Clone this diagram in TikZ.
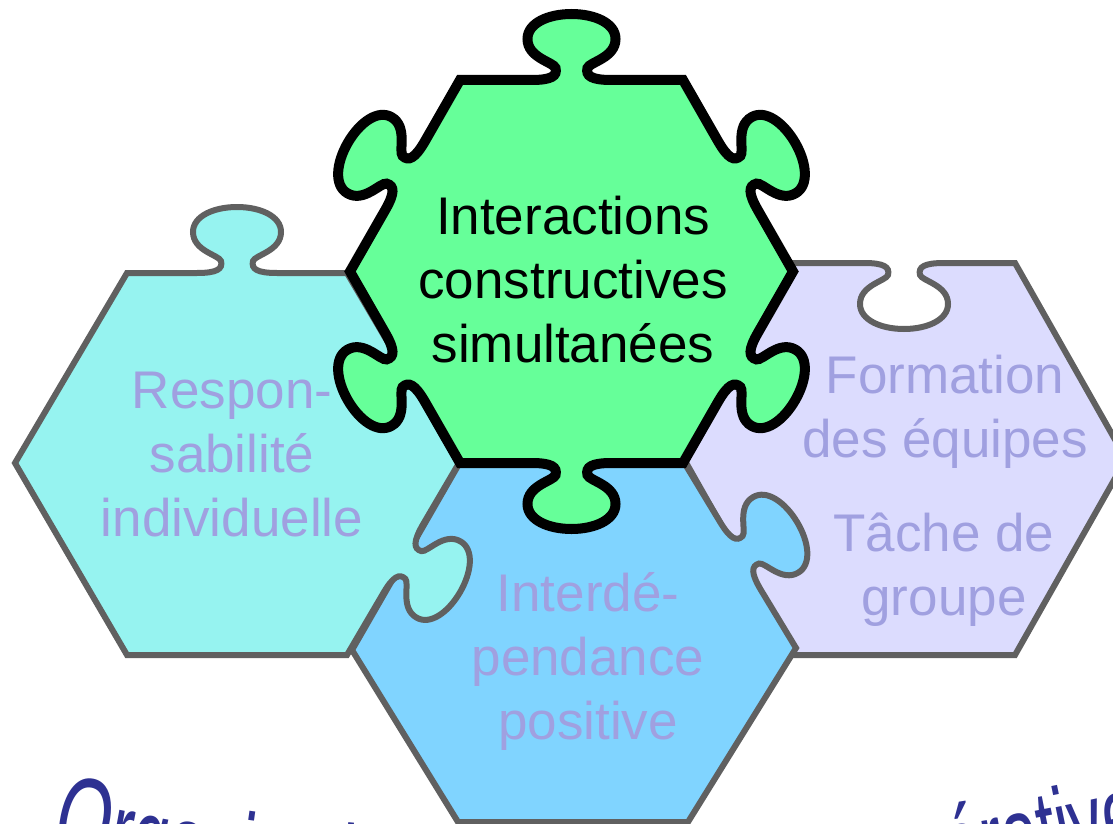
\documentclass[tikz,border=0pt]{standalone}
\usepackage{fontspec}
\setmainfont{Liberation Sans}
\newfontfamily\titlef[FakeStretch=0.6]{Liberation Sans}
\usetikzlibrary{calc,decorations.text}
\definecolor{gfill}{RGB}{102,255,153}
\definecolor{cfill}{RGB}{150,243,240}
\definecolor{bfill}{RGB}{128,212,255}
\definecolor{lfill}{RGB}{220,220,254}
\definecolor{edgegray}{RGB}{96,96,96}
\definecolor{labelc}{RGB}{160,160,224}
\definecolor{navy}{RGB}{46,49,146}
\tikzset{
  ptab/.style n args={3}{insert path={
    -- ($(#1)+(#2:-40)$)
    .. controls ($(#1)+(#2:-20)$) and ($(#1)+(#2:-14)+(#3:4)$) .. ($(#1)+(#2:-16)+(#3:12)$)
    .. controls ($(#1)+(#2:-18)+(#3:18)$) and ($(#1)+(#2:-44)+(#3:22)$) .. ($(#1)+(#2:-44)+(#3:41)$)
    .. controls ($(#1)+(#2:-44)+(#3:57)$) and ($(#1)+(#2:-23)+(#3:66)$) .. ($(#1)+(#3:66)$)
    .. controls ($(#1)+(#2:23)+(#3:66)$) and ($(#1)+(#2:44)+(#3:57)$) .. ($(#1)+(#2:44)+(#3:41)$)
    .. controls ($(#1)+(#2:44)+(#3:22)$) and ($(#1)+(#2:18)+(#3:18)$) .. ($(#1)+(#2:16)+(#3:12)$)
    .. controls ($(#1)+(#2:14)+(#3:4)$) and ($(#1)+(#2:20)$) .. ($(#1)+(#2:40)$)
  }},
  piece/.style={draw=edgegray, line width=6pt},
  greenpiece/.style={draw=black, line width=10pt, fill=gfill},
  lbl/.style={text=labelc, align=center, font=\fontsize{53}{64}\selectfont, inner sep=0pt}
}
\begin{document}
\begin{tikzpicture}[x=1pt,y=-1pt]
\useasboundingbox (0,0) rectangle (1113,824);
\fill[white] (0,0) rectangle (1113,824);
% title, mostly cut off
\begin{scope}
\clip (0,0) rectangle (1113,824);
\path[decorate, decoration={text along path, text={|\titlef\fontsize{110}{110}\selectfont\color{navy}|{\fontsize{120}{120}\selectfont O}rganisation de la classe coopérative}}]
  plot[domain=50:1300, samples=60, smooth] (\x, {914-2.09*((\x-580)/100)^2});
\end{scope}
% vertices
\coordinate (g1) at (460,80);   \coordinate (g2) at (683,80);
\coordinate (g3) at (793,271.5);\coordinate (g4) at (683,463);
\coordinate (g5) at (460,463);  \coordinate (g6) at (350,271.5);
\coordinate (c1) at (127,273);  \coordinate (c2) at (347,273);
\coordinate (c3) at (459,463);  \coordinate (c4) at (347,655);
\coordinate (c5) at (127,655);  \coordinate (c6) at (15,463);
\coordinate (b1) at (459,464);  \coordinate (b2) at (685,464);
\coordinate (b3) at (796,648);  \coordinate (b4) at (688,822);
\coordinate (b5) at (458,822);  \coordinate (b6) at (352,650);
\coordinate (l1) at (793,263);  \coordinate (l2) at (1015,263);
\coordinate (l3) at (1126,459); \coordinate (l4) at (1015,655);
\coordinate (l5) at (795,655);  \coordinate (l6) at (684,459);
% midpoints
\coordinate (gm1) at ($(g1)!.5!(g2)$); \coordinate (gm2) at ($(g2)!.5!(g3)$);
\coordinate (gm3) at ($(g3)!.5!(g4)$); \coordinate (gm4) at ($(g4)!.5!(g5)$);
\coordinate (gm5) at ($(g5)!.5!(g6)$); \coordinate (gm6) at ($(g6)!.5!(g1)$);
\coordinate (cm1) at ($(c1)!.5!(c2)$); \coordinate (cm3) at ($(c3)!.5!(c4)$);
\coordinate (bm2) at ($(b2)!.5!(b3)$);
\coordinate (lm1) at ($(l1)!.5!(l2)$);
% lavender piece
\draw[piece, fill=lfill] (l1) [ptab={lm1}{0}{90}] -- (l2) -- (l3) -- (l4) -- (l5) -- (l6) -- cycle;
% blue piece
\draw[piece, fill=bfill] (b1) -- (b2) [ptab={bm2}{59}{-31}] -- (b3) -- (b4) -- (b5) -- (b6) -- cycle;
% cyan piece
\draw[piece, fill=cfill] (c1) [ptab={cm1}{0}{-90}] -- (c2) -- (c3) [ptab={cm3}{120}{30}] -- (c4) -- (c5) -- (c6) -- cycle;
% green piece
\draw[greenpiece] (g1) [ptab={gm1}{0}{-90}] -- (g2) [ptab={gm2}{60}{-30}] -- (g3) [ptab={gm3}{120}{30}] -- (g4) [ptab={gm4}{180}{90}] -- (g5) [ptab={gm5}{240}{150}] -- (g6) [ptab={gm6}{300}{210}] -- cycle;
% labels
\node[lbl, text=black] (ics) at (573,280) {Interactions\\constructives\\simultanées};
\node[lbl] (resp) at (232,455) {Respon-\\sabilité\\individuelle};
\node[lbl] (inter) at (588,661) {Interdé-\\pendance\\positive};
\node[lbl] (form) at (945,411.5) {Formation\\des équipes};
\node[lbl] (tache) at (944,569.5) {Tâche de\\groupe};
\end{tikzpicture}
\end{document}
